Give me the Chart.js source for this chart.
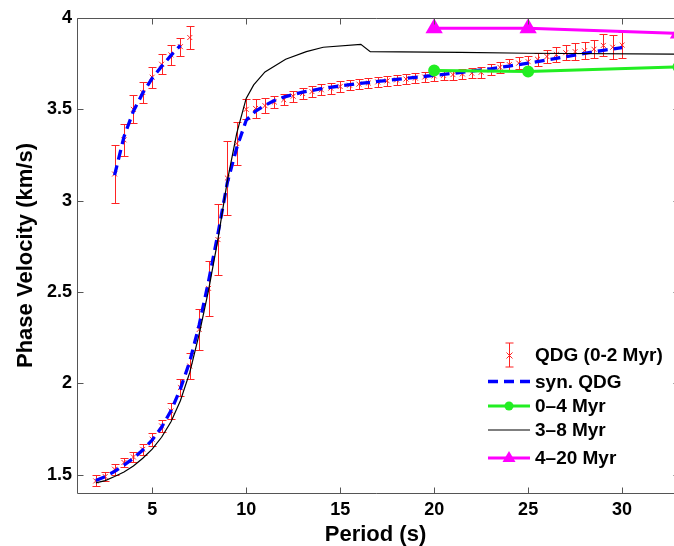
<!DOCTYPE html>
<html><head><meta charset="utf-8">
<script src="https://cdn.jsdelivr.net/npm/chart.js@4/dist/chart.umd.min.js"></script>
<style>
html,body{margin:0;padding:0;background:#fff;overflow:hidden;width:674px;height:546px}
canvas{display:block}
</style>
</head><body><canvas id="c" width="674" height="546" style="width:674px;height:546px"></canvas>
<script>
// ---- data ----
const xTicks = [5, 10, 15, 20, 25, 30];
const yTicks = [1.5, 2, 2.5, 3, 3.5, 4];
const yTickLabels = ['1.5', '2', '2.5', '3', '3.5', '4'];

// QDG (0-2 Myr) observed, fundamental branch
const obsPeriod = [2,2.5,3,3.5,4,4.5,5,5.5,6,6.5,7,7.5,8,8.5,9,9.5,10,10.5,11,11.5,12,12.5,13,13.5,14,14.5,15,15.5,16,16.5,17,17.5,18,18.5,19,19.5,20,20.5,21,21.5,22,22.5,23,23.5,24,24.5,25,25.5,26,26.5,27,27.5,28,28.5,29,29.5,30];
const obsVel = [1.466,1.49,1.53,1.567,1.597,1.639,1.694,1.767,1.849,1.977,2.095,2.295,2.52,2.787,3.124,3.313,3.50,3.505,3.52,3.54,3.553,3.572,3.587,3.597,3.607,3.616,3.625,3.632,3.638,3.644,3.65,3.656,3.661,3.666,3.671,3.677,3.683,3.686,3.69,3.694,3.698,3.703,3.716,3.73,3.745,3.753,3.761,3.774,3.789,3.80,3.81,3.816,3.821,3.829,3.85,3.84,3.852];
const obsErr = [0.03,0.025,0.03,0.025,0.03,0.03,0.035,0.035,0.045,0.045,0.07,0.11,0.15,0.195,0.2,0.12,0.055,0.05,0.04,0.035,0.03,0.03,0.03,0.03,0.03,0.03,0.03,0.028,0.028,0.028,0.028,0.028,0.028,0.028,0.028,0.028,0.028,0.028,0.028,0.028,0.028,0.03,0.03,0.03,0.032,0.032,0.033,0.035,0.038,0.04,0.042,0.045,0.048,0.05,0.06,0.065,0.07];

// QDG observed, overtone branch
const ovPeriod = [3,3.5,4,4.5,5,5.5,6,6.5,7];
const ovVel = [3.146,3.333,3.50,3.592,3.676,3.747,3.798,3.843,3.893];
const ovErr = [0.158,0.086,0.077,0.06,0.057,0.055,0.055,0.05,0.065];

// syn. QDG
const synPeriod = [2,2.5,3,3.5,4,4.5,5,5.5,6,6.5,7,7.5,8,8.5,9,9.5,10,10.5,11,11.5,12,13,14,15,16,17,18,19,20,21,22,23,24,25,26,27,28,29,30];
const synVel = [1.468,1.49,1.518,1.553,1.59,1.635,1.69,1.76,1.85,1.97,2.12,2.32,2.56,2.82,3.10,3.29,3.44,3.49,3.522,3.548,3.567,3.594,3.613,3.628,3.641,3.653,3.664,3.675,3.686,3.697,3.709,3.722,3.737,3.753,3.77,3.788,3.806,3.823,3.838];
const synOvPeriod = [3,3.5,4,4.5,5,5.5,6,6.5];
const synOvVel = [3.14,3.35,3.49,3.59,3.67,3.735,3.795,3.85];

// 0-4 Myr
const m04Period = [20, 25, 33];
const m04Vel = [3.712, 3.707, 3.732];
// 3-8 Myr
const m38Period = [2,2.5,3,3.5,4,4.5,5,5.5,6,6.5,7,7.5,8,8.5,9,9.5,10,10.4,11,12.1,13.2,14.1,16.1,16.6,21.4,25,33];
const m38Vel = [1.455,1.468,1.49,1.515,1.548,1.59,1.64,1.705,1.79,1.905,2.06,2.27,2.51,2.79,3.11,3.37,3.56,3.634,3.705,3.774,3.816,3.84,3.856,3.816,3.812,3.807,3.802];
// 4-20 Myr
const m420Period = [20, 25, 33];
const m420Vel = [3.944, 3.944, 3.915];

// ---- styling ----
const RED = 'rgb(255,35,35)', BLUE = '#0000ff', GREEN = '#22ee22', MAG = '#ff00ff', AXIS = '#555';
const FONT = "'Liberation Sans', Arial, Helvetica, sans-serif";
Chart.defaults.font.family = FONT;
const X_MIN = 1, X_MAX = 32.76, X_FRAME = 33;

const pts = (xs, ys) => xs.map((x, i) => ({x: x, y: ys[i]}));
const allPeriod = obsPeriod.concat(ovPeriod);
const allVel = obsVel.concat(ovVel);
const allErr = obsErr.concat(ovErr);

const errorBars = {
  id: 'errorBars',
  beforeDatasetsDraw(chart) {
    const ctx = chart.ctx, xs = chart.scales.x, ys = chart.scales.y, a = chart.chartArea;
    ctx.save();
    ctx.beginPath(); ctx.rect(a.left, a.top, a.right - a.left, a.bottom - a.top); ctx.clip();
    ctx.strokeStyle = RED; ctx.lineWidth = 1;
    allPeriod.forEach((p, i) => {
      const px = Math.round(xs.getPixelForValue(p)) + 0.5;
      const y1 = Math.round(ys.getPixelForValue(allVel[i] - allErr[i])) + 0.5;
      const y2 = Math.round(ys.getPixelForValue(allVel[i] + allErr[i])) + 0.5;
      ctx.beginPath();
      ctx.moveTo(px, y1); ctx.lineTo(px, y2);
      ctx.moveTo(px - 4, y1); ctx.lineTo(px + 4, y1);
      ctx.moveTo(px - 4, y2); ctx.lineTo(px + 4, y2);
      ctx.stroke();
    });
    ctx.restore();
  }
};

const frame = {
  id: 'frame',
  afterDraw(chart) {
    const ctx = chart.ctx, a = chart.chartArea, xs = chart.scales.x, ys = chart.scales.y;
    const L = Math.round(a.left) + 0.5, T = Math.round(a.top) + 0.5, B = Math.round(a.bottom) + 0.5;
    const R = Math.round(xs.getPixelForValue(X_FRAME)) + 0.5;
    ctx.save();
    ctx.strokeStyle = AXIS; ctx.lineWidth = 1;
    ctx.beginPath();
    ctx.moveTo(R, T); ctx.lineTo(L, T); ctx.lineTo(L, B); ctx.lineTo(R, B); ctx.lineTo(R, T);
    xTicks.forEach(v => {
      const px = Math.round(xs.getPixelForValue(v)) + 0.5;
      ctx.moveTo(px, B); ctx.lineTo(px, B - 6);
      ctx.moveTo(px, T); ctx.lineTo(px, T + 6);
    });
    yTicks.forEach(v => {
      const py = Math.round(ys.getPixelForValue(v)) + 0.5;
      ctx.moveTo(L, py); ctx.lineTo(L + 6, py);
      ctx.moveTo(R, py); ctx.lineTo(R - 6, py);
    });
    ctx.stroke();
    ctx.restore();
  }
};

const legendBox = {
  id: 'legendBox',
  afterDraw(chart) {
    const ctx = chart.ctx, a = chart.chartArea;
    const x0 = a.right - 186, x1 = a.right - 144, xm = (x0 + x1) / 2, tx = a.right - 139;
    const rows = [a.top + 337, a.top + 363.5, a.top + 388, a.top + 412, a.top + 440];
    ctx.save();
    // QDG error bar icon
    ctx.strokeStyle = RED; ctx.lineWidth = 1;
    let y = rows[0];
    ctx.beginPath();
    ctx.moveTo(xm + 0.5, y - 12); ctx.lineTo(xm + 0.5, y + 12);
    ctx.moveTo(xm - 3.5, y - 12); ctx.lineTo(xm + 4.5, y - 12);
    ctx.moveTo(xm - 3.5, y + 12); ctx.lineTo(xm + 4.5, y + 12);
    ctx.moveTo(xm - 2.5, y - 2.5); ctx.lineTo(xm + 3.5, y + 3.5);
    ctx.moveTo(xm - 2.5, y + 3.5); ctx.lineTo(xm + 3.5, y - 2.5);
    ctx.stroke();
    // syn
    y = rows[1];
    ctx.strokeStyle = BLUE; ctx.lineWidth = 3.3; ctx.setLineDash([10, 6]);
    ctx.beginPath(); ctx.moveTo(x0, y); ctx.lineTo(x1, y); ctx.stroke();
    ctx.setLineDash([]);
    // 0-4
    y = rows[2];
    ctx.strokeStyle = GREEN; ctx.fillStyle = GREEN; ctx.lineWidth = 3;
    ctx.beginPath(); ctx.moveTo(x0, y); ctx.lineTo(x1, y); ctx.stroke();
    ctx.beginPath(); ctx.arc(xm, y, 4.5, 0, Math.PI * 2); ctx.fill();
    // 3-8
    y = rows[3];
    ctx.strokeStyle = '#000'; ctx.lineWidth = 1.2;
    ctx.beginPath(); ctx.moveTo(x0, y); ctx.lineTo(x1, y); ctx.stroke();
    // 4-20
    y = rows[4];
    ctx.strokeStyle = MAG; ctx.fillStyle = MAG; ctx.lineWidth = 3;
    ctx.beginPath(); ctx.moveTo(x0, y); ctx.lineTo(x1, y); ctx.stroke();
    ctx.beginPath(); ctx.moveTo(xm, y - 7); ctx.lineTo(xm + 6.5, y + 4); ctx.lineTo(xm - 6.5, y + 4); ctx.closePath(); ctx.fill();
    // texts
    ctx.fillStyle = '#000';
    ctx.font = 'bold 19px ' + FONT;
    ctx.textBaseline = 'middle'; ctx.textAlign = 'left';
    const labels = ['QDG (0-2 Myr)', 'syn. QDG', '0\u20134 Myr', '3\u20138 Myr', '4\u201320 Myr'];
    labels.forEach((t, i) => ctx.fillText(t, tx, rows[i] + 1));
    ctx.restore();
  }
};

new Chart(document.getElementById('c'), {
  type: 'scatter',
  data: {
    datasets: [
      { label: 'QDG (0-2 Myr)', data: pts(allPeriod, allVel), showLine: false,
        pointStyle: 'crossRot', pointRadius: 3.5, borderColor: RED, backgroundColor: RED, pointBorderWidth: 1, order: 6 },
      { label: 'syn. QDG', data: pts(synPeriod, synVel), showLine: true, pointRadius: 0, borderColor: BLUE,
        borderWidth: 3.3, borderDash: [10, 6], order: 5 },
      { label: 'syn. QDG overtone', data: pts(synOvPeriod, synOvVel), showLine: true, pointRadius: 0, borderColor: BLUE,
        borderWidth: 3.3, borderDash: [10, 6], order: 5 },
      { label: '0\u20134 Myr', data: pts(m04Period, m04Vel), showLine: true, pointRadius: 4.5, pointStyle: 'circle',
        borderColor: GREEN, backgroundColor: GREEN, pointBackgroundColor: GREEN, borderWidth: 3, order: 3, clip: 12 },
      { label: '3\u20138 Myr', data: pts(m38Period, m38Vel), showLine: true, pointRadius: 0, borderColor: '#000',
        borderWidth: 1.2, order: 2, clip: 12 },
      { label: '4\u201320 Myr', data: pts(m420Period, m420Vel), showLine: true, pointRadius: 7, pointStyle: 'triangle',
        borderColor: MAG, backgroundColor: MAG, pointBackgroundColor: MAG, borderWidth: 3, order: 1, clip: 12 }
    ]
  },
  options: {
    responsive: false, animation: false, devicePixelRatio: 1,
    layout: { autoPadding: false, padding: { left: 9, right: 0, top: 18, bottom: 0 } },
    plugins: { legend: { display: false }, tooltip: { enabled: false } },
    scales: {
      x: {
        type: 'linear', min: X_MIN, max: X_MAX,
        afterBuildTicks: s => { s.ticks = xTicks.map(v => ({ value: v })); },
        afterFit: s => { s.height = 53; },
        ticks: { color: '#000', padding: 6, maxRotation: 0, font: { size: 18, weight: 'bold' }, callback: v => String(v) },
        grid: { display: false, drawTicks: false },
        border: { display: false },
        title: { display: true, text: 'Period (s)', color: '#000', font: { size: 22, weight: 'bold', lineHeight: 1 }, padding: { top: 4, bottom: 0 } }
      },
      y: {
        type: 'linear', min: 1.4, max: 4,
        afterBuildTicks: s => { s.ticks = yTicks.map(v => ({ value: v })); },
        afterFit: s => { s.width = 68; },
        ticks: { color: '#000', padding: 5, font: { size: 18, weight: 'bold' },
          callback: (v) => { const i = yTicks.indexOf(v); return i >= 0 ? yTickLabels[i] : ''; } },
        grid: { display: false, drawTicks: false },
        border: { display: false },
        title: { display: true, text: 'Phase Velocity (km/s)', color: '#000', font: { size: 22, weight: 'bold', lineHeight: 1 }, padding: { top: 6, bottom: 0 } }
      }
    }
  },
  plugins: [errorBars, frame, legendBox]
});
</script>
</body></html>
